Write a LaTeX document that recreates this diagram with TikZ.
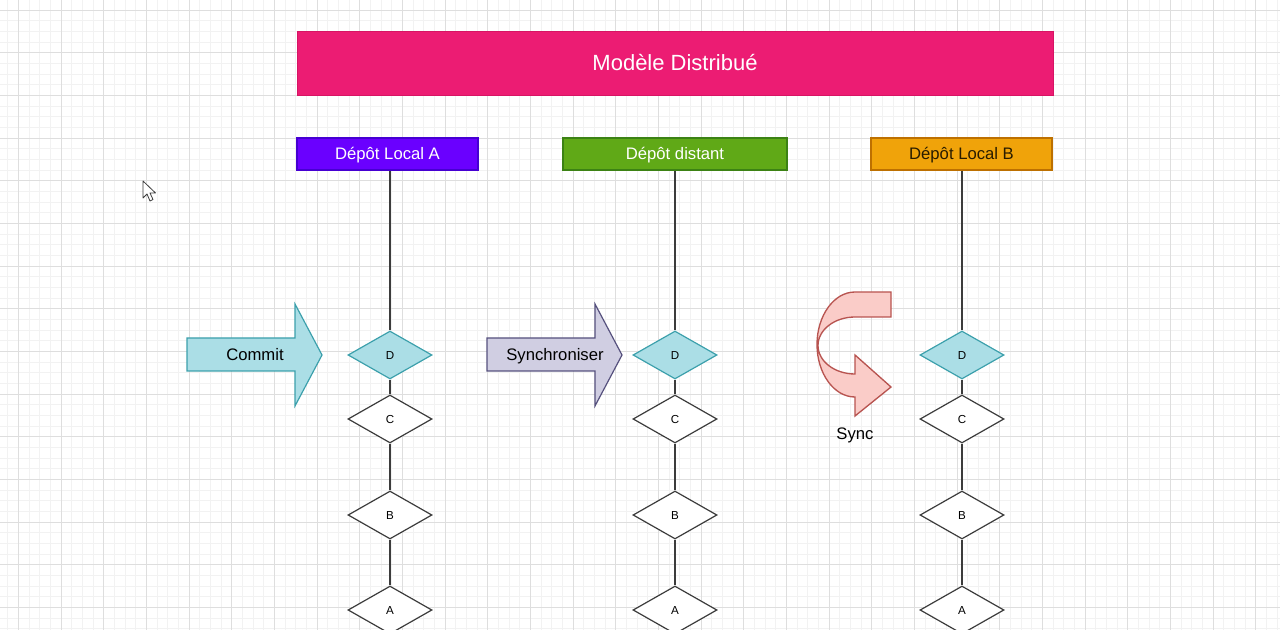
\documentclass[tikz,border=0pt]{standalone}
\usepackage{fontspec}
\setmainfont{Liberation Sans}
\usetikzlibrary{shapes.geometric}
\definecolor{titlefill}{RGB}{236,28,115}
\definecolor{titledraw}{RGB}{215,20,100}
\definecolor{violetfill}{RGB}{106,0,255}
\definecolor{violetdraw}{RGB}{70,0,210}
\definecolor{greenfill}{RGB}{96,169,23}
\definecolor{greendraw}{RGB}{60,130,20}
\definecolor{amberfill}{RGB}{240,163,10}
\definecolor{amberdraw}{RGB}{189,112,0}
\definecolor{ambertext}{RGB}{40,28,0}
\definecolor{cyanfill}{RGB}{171,222,230}
\definecolor{cyandraw}{RGB}{60,160,172}
\definecolor{lavfill}{RGB}{208,206,226}
\definecolor{lavdraw}{RGB}{86,81,126}
\definecolor{pinkfill}{RGB}{250,204,200}
\definecolor{pinkdraw}{RGB}{184,84,80}
\definecolor{linegray}{RGB}{60,60,60}
\definecolor{majorgrid}{RGB}{222,222,222}
\definecolor{minorgrid}{RGB}{242,242,242}
\tikzset{
  titlebox/.style={draw=titledraw, fill=titlefill, text=white, minimum width=567pt, minimum height=48pt, inner sep=0pt, font=\fontsize{16.5}{19}\selectfont, text height=11.8pt, text depth=0pt},
  headbox/.style={minimum height=24pt, inner sep=0pt, line width=0.8pt, font=\fontsize{12.5}{15}\selectfont, text height=8.95pt, text depth=0pt},
  commitbox/.style={diamond, draw=linegray, fill=white, line width=0.9pt, minimum width=63pt, minimum height=36pt, inner sep=0pt, font=\fontsize{8.7}{10}\selectfont, text height=6.23pt, text depth=0pt},
  headcommit/.style={commitbox, draw=cyandraw, fill=cyanfill},
  link/.style={draw=linegray, line width=0.9pt},
  lbl/.style={font=\fontsize{12.5}{15}\selectfont, inner sep=0pt, text height=8.95pt, text depth=0pt},
}
\begin{document}
\begin{tikzpicture}[x=0.75pt,y=-0.75pt]
\useasboundingbox (0,0) rectangle (1280,630);
\fill[white] (0,0) rectangle (1280,630);
\begin{scope}
\clip (0,0) rectangle (1280,630);
\foreach \k in {-1,...,119} {
  \pgfmathsetmacro\xx{18.33+10.667*\k}
  \draw[minorgrid, line width=0.5pt] (\xx,0) -- (\xx,630);
}
\foreach \k in {-1,...,59} {
  \pgfmathsetmacro\yy{10+10.667*\k}
  \draw[minorgrid, line width=0.5pt] (0,\yy) -- (1280,\yy);
}
\foreach \k in {0,...,30} {
  \pgfmathsetmacro\xx{18.33+42.667*\k}
  \draw[majorgrid, line width=0.6pt] (\xx,0) -- (\xx,630);
}
\foreach \k in {0,...,15} {
  \pgfmathsetmacro\yy{10+42.667*\k}
  \draw[majorgrid, line width=0.6pt] (0,\yy) -- (1280,\yy);
}
\end{scope}

% title
\node[titlebox] (title) at (675,63) {Modèle Distribué};

% headers
\node[headbox, draw=violetdraw, fill=violetfill, text=white, minimum width=135.75pt] (hA) at (387.5,154) {Dépôt Local A};
\node[headbox, draw=greendraw, fill=greenfill, text=white, minimum width=168pt] (hR) at (675,154) {Dépôt distant};
\node[headbox, draw=amberdraw, fill=amberfill, text=ambertext, minimum width=135.75pt] (hB) at (961.5,154) {Dépôt Local B};

% column A
\node[headcommit] (dA) at (390,355) {D};
\node[commitbox] (cA) at (390,419) {C};
\node[commitbox] (bA) at (390,515) {B};
\node[commitbox] (aA) at (390,610) {A};
% column remote
\node[headcommit] (dR) at (675,355) {D};
\node[commitbox] (cR) at (675,419) {C};
\node[commitbox] (bR) at (675,515) {B};
\node[commitbox] (aR) at (675,610) {A};
% column B
\node[headcommit] (dB) at (962,355) {D};
\node[commitbox] (cB) at (962,419) {C};
\node[commitbox] (bB) at (962,515) {B};
\node[commitbox] (aB) at (962,610) {A};

\foreach \c in {A,R,B} {
  \draw[link] (d\c.north |- h\c.south) -- (d\c.north);
  \draw[link] (d\c.south) -- (c\c.north);
  \draw[link] (c\c.south) -- (b\c.north);
  \draw[link] (b\c.south) -- (a\c.north);
}

% Commit arrow
\draw[draw=cyandraw, fill=cyanfill, line width=0.9pt, line join=miter]
  (187,338) -- (295,338) -- (295,304) -- (322,355) -- (295,406) -- (295,371) -- (187,371) -- cycle;
\node[lbl] (commit) at (255,355) {Commit};

% Synchroniser arrow
\draw[draw=lavdraw, fill=lavfill, line width=0.9pt, line join=miter]
  (487,338) -- (595,338) -- (595,304) -- (622,355) -- (595,406) -- (595,371) -- (487,371) -- cycle;
\node[lbl] (synchro) at (555,355) {Synchroniser};

% Sync U-turn arrow
\draw[draw=pinkdraw, fill=pinkfill, line width=1pt, line join=miter]
  (891,292) -- (855,292) arc[start angle=270, end angle=90, x radius=38, y radius=52.5]
  -- (855,416) -- (891,387) -- (855,355) -- (855,374)
  arc[start angle=90, end angle=270, x radius=37, y radius=28.5]
  -- (891,317) -- cycle;
\node[lbl] (sync) at (855,434) {Sync};

% mouse cursor
\draw[draw=linegray, fill=white, line width=0.6pt, line join=round]
  (143,181) -- (143,198) -- (147,194) -- (150,201) -- (153,199.5) -- (150,193) -- (155.5,193) -- cycle;
\end{tikzpicture}
\end{document}
